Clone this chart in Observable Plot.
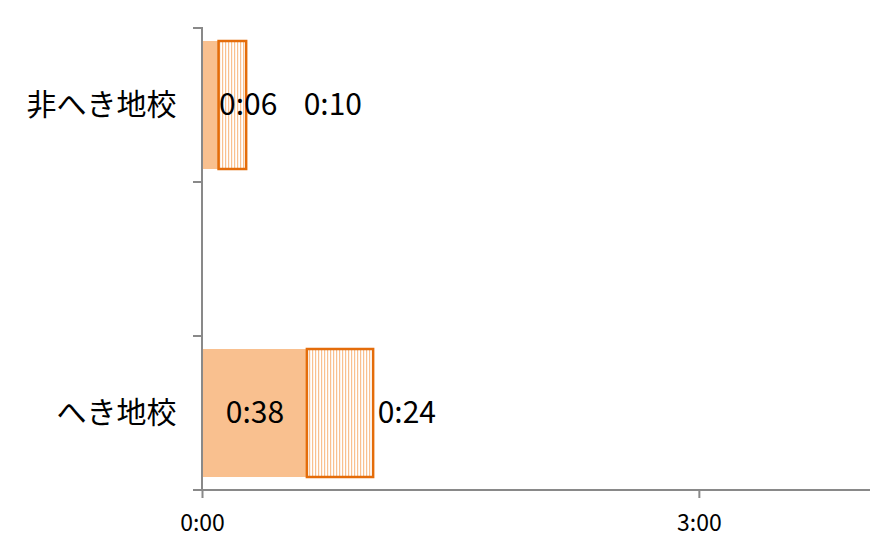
<!DOCTYPE html>
<html><head><meta charset="utf-8">
<script src="https://cdn.jsdelivr.net/npm/d3@7"></script>
<script src="https://cdn.jsdelivr.net/npm/@observablehq/plot@0.6"></script>
<style>body{margin:0;background:#fff}</style>
</head><body><div id="chart"></div>
<script>
// Band categories (middle band is empty, as in the reference)
const categories = ["非へき地校", "", "へき地校"];
const rowCategories = ["非へき地校", "へき地校"];
// minutes
const seriesA = [6, 38];
const seriesB = [10, 24];
const xTicks = [0, 180];

const fmt = m => `${Math.floor(m / 60)}:${String(Math.round(m % 60)).padStart(2, "0")}`;
const rows = rowCategories.map((c, i) => ({cat: c, a: seriesA[i], b: seriesB[i]}));

const gray = "#898989";
const peach = "#F9C08F";
const orange = "#E46C0A";
const font = "'Noto Sans CJK JP', 'Noto Sans', sans-serif";

function frameLines(index, scales, values, dims) {
  const {x, y} = scales;
  const bw = y.bandwidth ? y.bandwidth() : (dims.height - dims.marginTop - dims.marginBottom) / categories.length;
  const x0 = x(0);
  const top = y(categories[0]);
  const bottom = y(categories[categories.length - 1]) + bw;
  const g = d3.create("svg:g").attr("stroke", gray).attr("stroke-width", 2).attr("fill", "none");
  g.append("line").attr("x1", x0).attr("x2", x0).attr("y1", top - 1).attr("y2", bottom);
  const ys = categories.map(c => y(c)).concat([bottom]);
  for (const yy of ys) {
    g.append("line").attr("x1", x0 - 9).attr("x2", x0).attr("y1", yy).attr("y2", yy);
  }
  g.append("line").attr("x1", x0 - 9).attr("x2", dims.width - dims.marginRight).attr("y1", bottom).attr("y2", bottom);
  return g.node();
}

const chart = Plot.plot({
  width: 871,
  height: 537,
  marginLeft: 202,
  marginRight: 1,
  marginTop: 27,
  marginBottom: 47,
  style: {fontFamily: font, background: "#fff", color: "#000"},
  x: {domain: [0, 242], label: null},
  y: {domain: categories, padding: 0, label: null},
  marks: [
    Plot.barX(rows, {y: "cat", x1: 0, x2: d => d.a, fill: peach, insetTop: 13, insetBottom: 13}),
    Plot.barX(rows, {y: "cat", x1: d => d.a, x2: d => d.a + d.b, fill: "url(#hatch)", stroke: orange, strokeWidth: 2.5, insetTop: 13, insetBottom: 13}),
    frameLines,
    Plot.axisY({tickSize: 0, tickPadding: 26, fontSize: 30, fill: "#000", label: null}),
    Plot.axisX({ticks: xTicks, tickFormat: fmt, tickSize: 8, tickPadding: 16, fontSize: 23, stroke: gray, strokeWidth: 2, fill: "#000", label: null}),
    Plot.text([rows[0]], {y: "cat", x: d => d.a, text: d => fmt(d.a), textAnchor: "start", fontSize: 30, fill: "#000"}),
    Plot.text([rows[0]], {y: "cat", x: d => d.a + d.b, text: d => fmt(d.b), textAnchor: "start", dx: 57, fontSize: 30, fill: "#000"}),
    Plot.text([rows[1]], {y: "cat", x: d => d.a / 2, text: d => fmt(d.a), textAnchor: "middle", fontSize: 30, fill: "#000"}),
    Plot.text([rows[1]], {y: "cat", x: d => d.a + d.b, text: d => fmt(d.b), textAnchor: "start", dx: 4, fontSize: 30, fill: "#000"})
  ]
});

d3.select(chart).insert("defs", ":first-child").html(
  `<pattern id="hatch" patternUnits="userSpaceOnUse" width="3" height="3">
     <rect width="3" height="3" fill="#fff"/>
     <rect width="1.2" height="3" fill="${peach}"/>
   </pattern>`);

document.getElementById("chart").appendChild(chart);
</script>
</body></html>
